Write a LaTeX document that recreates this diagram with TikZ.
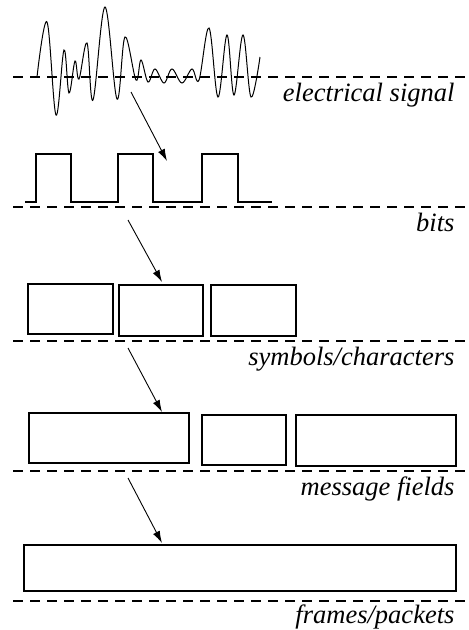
\documentclass[tikz,border=0pt]{standalone}
\usepackage{fontspec}
\setmainfont{Liberation Serif}
\usetikzlibrary{arrows.meta}

\tikzset{
  level/.style={dash pattern=on 10pt off 7pt},
  layer/.style={anchor=base east, inner sep=0pt, font=\fontsize{26.5}{30}\selectfont\itshape},
  down/.style={line width=0.9pt, -{Latex[length=12pt,width=7.5pt]}}
}

\begin{document}
\begin{tikzpicture}[x=1pt,y=-1pt,line width=1.1pt]
    \useasboundingbox (0,0) rectangle (469,630);
    % levels
    \draw[level] (13,77) -- (469,77);
    \draw[level] (13,207) -- (469,207);
    \draw[level] (13,341) -- (469,341);
    \draw[level] (13,471) -- (469,471);
    \draw[level] (13,601) -- (469,601);
    \node[layer] (sig) at (455,101) {electrical signal};
    \node[layer] (bits) at (455,231) {bits};
    \node[layer] (syms) at (455,365) {symbols/characters};
    \node[layer] (msgs) at (455,495) {message fields};
    \node[layer] (frms) at (455,623) {frames/packets};
    % signal
    \draw[line width=1pt] plot[smooth, tension=0.6] coordinates {
        (37,77) (47,22) (56,115) (64,50) (69,93) (75,61) (79,79) (87,43)
        (93,100) (105,7) (117,99) (125,37) (136,80) (141,60) (148,82) (155,69)
        (164,83) (172,69) (182,83) (192,69) (199,80) (209,28) (218,97) (227,35)
        (234,95) (243,35) (251,97) (260,57)};
    % bits
    \draw (25,202) -- (36,202) -- (36,154) -- (71,154) -- (71,202) -- (118,202)
        -- (118,154) -- (153,154) -- (153,202) -- (202,202) -- (202,154)
        -- (238,154) -- (238,202) -- (272,202);
    % symbols
    \draw (28,284) rectangle (113,334);
    \draw (119,285) rectangle (203,336);
    \draw (211,285) rectangle (296,336);
    % fields
    \draw (29,413) rectangle (189,463);
    \draw (202,415) rectangle (286,465);
    \draw (296,415) rectangle (456,466);
    % frame
    \draw (24,545) rectangle (456,591);
    % arrows
    \coordinate (a1) at (131,92);  \coordinate (b1) at (167,161);
    \coordinate (a2) at (128,220); \coordinate (b2) at (162,282);
    \coordinate (a3) at (128,348); \coordinate (b3) at (162,412);
    \coordinate (a4) at (128,478); \coordinate (b4) at (162,543);
    \draw[down] (a1) -- (b1);
    \draw[down] (a2) -- (b2);
    \draw[down] (a3) -- (b3);
    \draw[down] (a4) -- (b4);
\end{tikzpicture}
\end{document}
